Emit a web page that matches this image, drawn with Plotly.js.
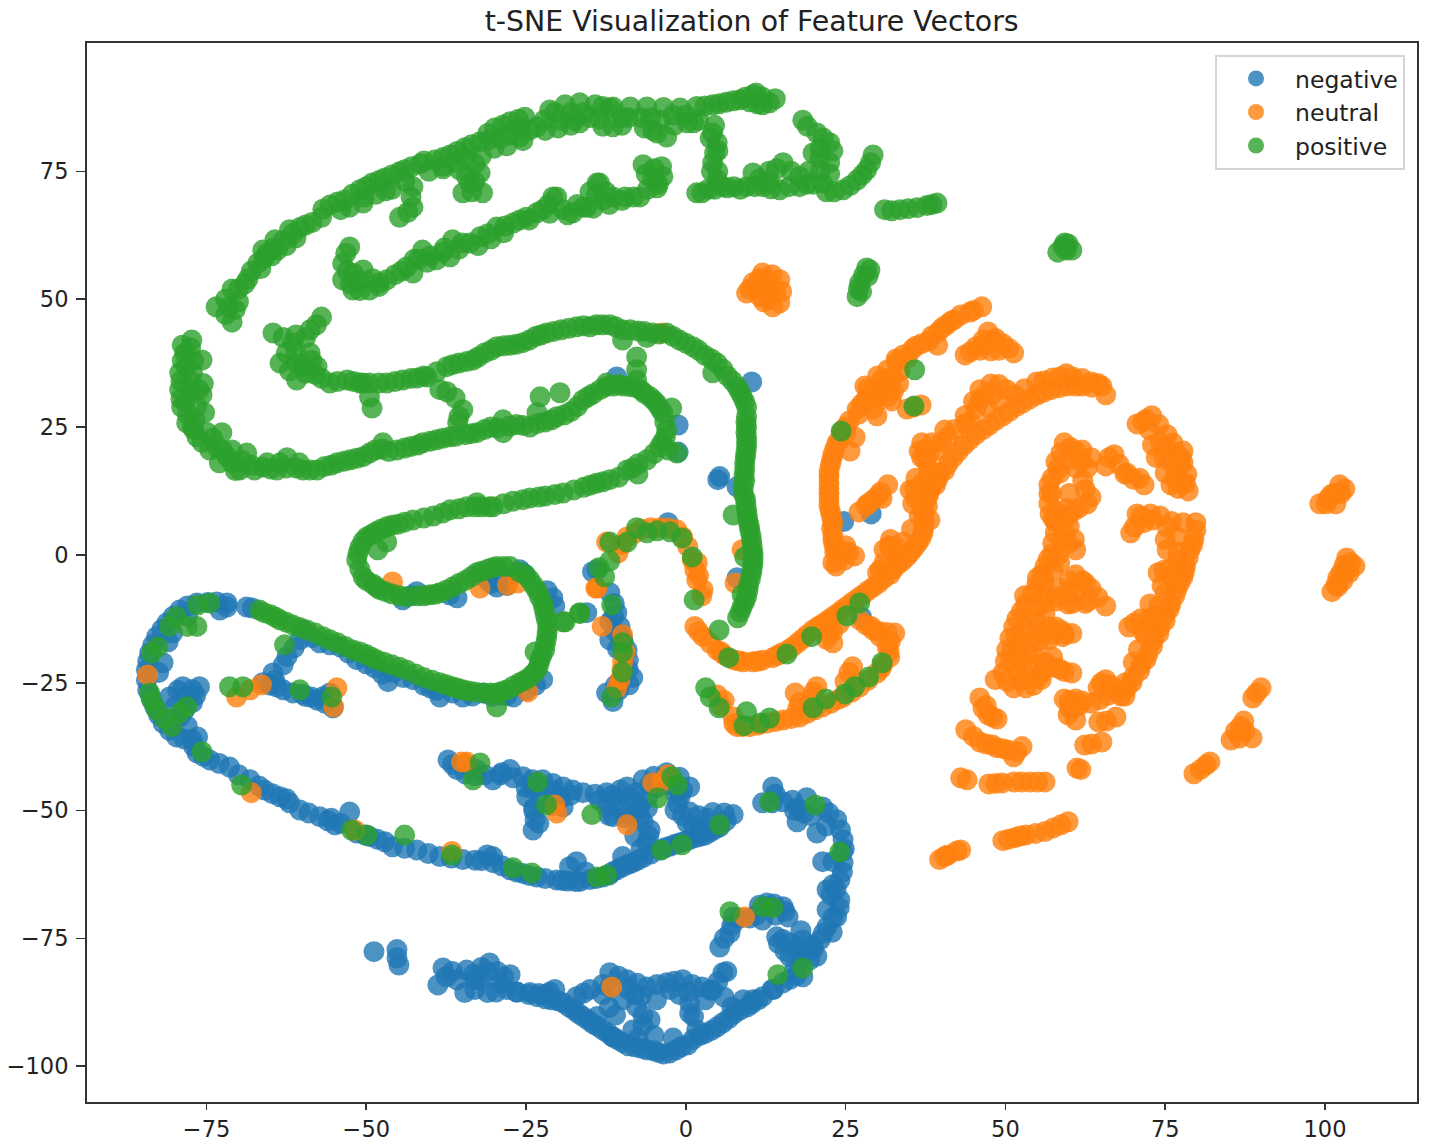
<!DOCTYPE html>
<html><head><meta charset="utf-8">
<script src="https://cdn.plot.ly/plotly-3.0.1.min.js"></script>
<style>html,body{margin:0;padding:0;background:#fff}</style>
</head><body><div id="chart" style="width:1429px;height:1145px"></div>
<script>
const seriesNames = ["negative","neutral","positive"];
const seriesColors = ["#1f77b4","#ff7f0e","#2ca02c"];
const xTicks = [-75,-50,-25,0,25,50,75,100];
const yTicks = [-100,-75,-50,-25,0,25,50,75];

// ---------- negative ----------
const negLoop = [[-71.8,-9.4],[-73.4,-9.2],[-76.5,-9.4],[-79.2,-10.8],[-81.2,-13.3],[-82.8,-16],[-83.9,-19.2],[-84.4,-22.5],[-84.2,-26.4],[-83.1,-29.7],[-81.8,-32.9],[-79.7,-35.6],[-77.2,-36.2],[-76.5,-38.7],[-74.5,-40.1],[-71.4,-41.5],[-80.3,-15.3],[-81.8,-21.1],[-76.4,-35.6],[-71.8,-10.2],[-72.9,-10.8],[-77.2,-26.4],[-78.7,-25.8],[-80.8,-27.8],[-76.1,-25.8],[-77.2,-28.9],[-79.2,-31.7],[-82.5,-23],[-78,-33.5],[-74.8,-9.3],[-78,-10],[-80.2,-12],[-82,-14.6],[-83.4,-17.6],[-84.2,-20.8],[-84.4,-24.5],[-83.7,-28],[-82.5,-31.3],[-80.8,-34.3],[-78.5,-36],[-75.5,-39.4],[-73,-40.8],[-77,-37.5],[-81,-17],[-78,-12],[-78,-27.5],[-76.7,-27.5],[-79.5,-26.5],[-79.8,-29.5],[-78.5,-30.5]];
const negBranch = [[-60.4,-16.6],[-62.4,-19.9],[-64.6,-23.1],[-64,-25.8],[-66.2,-25],[-61.5,-27],[-57.7,-28.4],[-55.2,-29.9],[-55.7,-27],[-59.5,-27.7],[-63,-21.5],[-61.3,-18.2],[-64.3,-24.5],[-65,-25.5],[-63,-26.4],[-60,-27.2],[-58.6,-27.8],[-56.5,-29],[-56.7,-27.7]];
const negStrip = [[-68.7,-10.2],[-67.8,-10.4],[-59.9,-14.7],[-57.3,-17.2],[-54.1,-18],[-51.5,-20.5],[-48.7,-22.1],[-46.6,-24.8],[-45.8,-23],[-42.7,-24.4],[-38.5,-27.8],[-34.9,-27.8],[-31.8,-27],[-27,-27.8],[-22.4,-24.4],[-40,-26],[-36.5,-27],[-29,-27.5],[-58.5,-16.2],[-55.7,-17.6],[-52.8,-19.2],[-50,-21.3],[-47.5,-23.3],[-44.2,-24],[-41,-25.5],[-39,-26.5],[-33.4,-27.6],[-30.3,-27.7],[-28,-27.5],[-25,-26.5],[-23.5,-25.5]];
const negUnderS = [[-42.1,-7.2],[-35.8,-8.4],[-29.6,-6.3],[-31,-5],[-28,-6],[-26,-2.9],[-20.8,-8.4],[-15.5,-11.3],[-13.9,-2.9],[-44.3,-8.8],[-30.5,-5.6],[-29,-5],[-27.5,-4.5],[-25.3,-3.7],[-21.7,-7],[-20.5,-10],[-43,-8],[-37,-7.8]];
const negArch = [[-11.9,-13.1],[-10.3,-14],[-11.9,-16.6],[-9.2,-18.6],[-11.9,-7.4],[-8.3,-24],[-12.4,-27],[-11.4,-28.7],[-2.8,6.3],[-14.6,-3.3],[-10.8,-11.3],[-11.2,-9.5],[-10,-16],[5,14.7],[8,13.3],[8,-4.5],[-10.8,34.8],[10.3,33.8],[-1.2,25.4],[-1.2,20.1],[5.3,15.3],[24.7,6.5],[29,8],[27.5,-12.2],[-11.3,-12],[-11,-15],[-9.8,-16.9],[-10.7,-18.4],[-9,-20.6],[-9,-22.5],[-8.9,-25.4],[-10.5,-26.5],[-11,-25.5]];
const negStripLow = [[-68.2,-44],[-65.9,-46],[-63.5,-47.3],[-60.4,-49.9],[-57.3,-51.2],[-54.9,-52.8],[-52.6,-50.3],[-50.2,-54.8],[-47.1,-56.1],[-49.5,-55.1],[-45.9,-57.1],[-42.1,-57.7],[-38.5,-59],[-34.9,-59.6],[-30.2,-59],[-30.2,-60.2],[-27.5,-61.6],[-23.3,-63],[-20.2,-63.6],[-16.6,-63.9],[-17.1,-60],[-13,-63],[-9.9,-61],[-6.7,-59.2],[-4.1,-57.7],[-0.9,-56.3],[2.2,-55.1],[5.3,-53.2],[7.4,-50.8],[4.2,-50.4],[2.2,-53.4],[0.2,-52.4],[0.6,-50.3],[-1.7,-49.9],[-0.9,-47.3],[-6.7,-52.2],[-5.6,-53.8],[-6.1,-56.3],[-9.9,-59],[-70,-43],[-62,-48.5],[-55.5,-51.5],[-32,-59.8],[-25.5,-62.3],[-18.5,-63.8],[-15,-63.5],[-11.5,-62],[-8.3,-60.2],[-2.5,-57],[0.6,-55.7],[3.8,-54.2],[-66.8,-45.2],[-64.7,-46.7],[-62.5,-47.7],[-59,-50.5],[-56,-52],[-54,-52.5],[-51.5,-54.4],[-48.3,-55.6],[-44,-57.4],[-40.3,-58.4],[-36.7,-59.3],[-33,-59.7],[-31.1,-58.7],[-28.8,-60.8],[-26.5,-62],[-24.5,-62.7],[-22,-63.3],[-19.3,-63.7],[-17.3,-63.9],[-18.2,-61],[-15.7,-62],[-14,-63.3],[-12,-62.6],[-10.8,-61.6],[-9,-60.5],[-7.5,-59.7],[-5.5,-58.5],[-3.3,-57.3],[-1.7,-56.6],[-0.1,-56],[1.5,-55.3],[3,-54.8],[4.5,-53.7],[6.3,-52],[3.3,-51.5],[1.2,-53],[-0.5,-51],[-1.3,-48.6],[-5.8,-55],[-7,-57.5],[-8,-55],[2,-51],[6,-50.5]];
const negWing = [[-37.2,-40.1],[-35.8,-42],[-32.7,-42],[-30.2,-44],[-27.5,-42],[-25.5,-43.4],[-22.4,-44],[-19.2,-45.4],[-16.1,-46.5],[-12.4,-46.5],[-9.2,-45.4],[-6.7,-44],[-3,-42.6],[0.6,-45.4],[-24.9,-47.3],[-22.8,-47.9],[-23.9,-53.8],[-23.6,-51.8],[-19.2,-49.3],[-12.4,-49.3],[-9.9,-49.9],[-7.2,-49.3],[-10.8,-47.9],[-7.7,-46.5],[-11.4,-51.2],[-7.2,-51.2],[-1.7,-46.5],[-34.5,-41],[-29,-43],[-20.8,-44.7],[-17.7,-46],[-14.2,-46.8],[-5,-43.3],[-1,-43.5],[-23.8,-49.5],[-4.5,-45.5],[-36.5,-41],[-34.5,-42.8],[-33,-43.2],[-31.5,-43],[-28.8,-42.6],[-27,-43.6],[-24,-44],[-23.5,-45.5],[-21,-46],[-20.5,-47.5],[-18,-47],[-13.5,-48],[-11.5,-47],[-10.3,-46],[-8,-47.8],[-8.5,-51],[-5.7,-45],[-6,-47.5],[-6,-49.5],[-4,-44.5],[-2.2,-45],[-0.5,-46],[-24,-45.5],[-25,-45.5],[-23.8,-50],[-23,-52.5],[-19.5,-47.5],[-21,-49],[-12,-51],[-9,-47.5],[-9.5,-51.5]];
const negHook = [[13.6,-45.4],[12,-48.5],[15.2,-48.3],[18.9,-47.5],[17.4,-52.2],[21.4,-49.3],[20.5,-54.4],[23.6,-51.8],[24.6,-55.7],[21.4,-60],[24.6,-60.2],[24.1,-63.6],[22.1,-65.5],[24.1,-67.5],[22.1,-69.4],[23.6,-70.8],[22.1,-72.7],[21,-75.3],[14.2,-74.7],[16.3,-75.9],[18.3,-75.3],[16.3,-78.6],[19.4,-79.2],[18.3,-82.5],[15.2,-83.7],[12,-86.4],[8.5,-89],[4.9,-92.3],[1.1,-94.8],[-2.5,-97.4],[-6.1,-96.8],[-9.9,-95.4],[-13,-92.9],[-16.1,-90.3],[-19.2,-87.6],[-23.3,-86.4],[-26.4,-85.5],[17,-50],[24.5,-58],[23.5,-65.5],[20,-77],[17,-81],[13.7,-85],[10.3,-87.8],[6.7,-90.7],[3,-93.6],[-0.7,-96.2],[-4.3,-97.3],[-8,-96.2],[-11.5,-94.2],[-14.5,-91.7],[-17.5,-89],[-21,-87],[14,-46.8],[13.5,-48.5],[16.7,-48],[17.5,-49.5],[18.5,-50.5],[19.5,-51],[22.4,-50.5],[22,-53],[24.2,-53.8],[24.8,-57.5],[23,-60],[24.5,-62],[23,-64.5],[22.7,-66.5],[24,-69],[23,-71],[22.9,-73.8],[21.5,-74],[19.7,-76.5],[15.2,-75.2],[17.3,-77],[18,-79],[14.5,-76],[17.3,-82.3],[16.3,-83],[13.5,-85],[11.3,-87],[9.6,-88.4],[7.5,-89.8],[5.8,-91.5],[4,-93],[2.2,-94],[0.3,-95.8],[-1.5,-96.8],[-3.5,-97.6],[-5,-97],[-7,-96.5],[-9,-96],[-10.7,-94.8],[-12.2,-93.5],[-13.8,-92.2],[-15.3,-91],[-16.8,-89.7],[-18.3,-88.4],[-20,-87.2],[-22,-86.8],[-24.6,-86],[15.5,-77.5],[18.7,-77.5],[20.5,-78.5],[18,-73.5]];
const negInner = [[7.2,-88.4],[10.5,-87],[4.2,-85.1],[5.8,-81.7],[0.6,-89.6],[1.7,-92.9],[0.6,-87.6],[-0.5,-83.1],[-3,-83.7],[-6.1,-84.5],[-9.2,-83.1],[-11.9,-81.7],[-11.9,-84.5],[-15,-85],[-17.1,-86.4],[-7.7,-88.4],[-5.6,-90.9],[-8.3,-92.9],[-13.9,-90.3],[-11.4,-94.3],[3.8,-85.1],[6.4,-81.5],[-8,-86],[-12,-88.5],[-4.6,-87],[9,-87],[6,-86.5],[5,-83.5],[3,-87],[0.4,-85.5],[1.2,-90.3],[-1.8,-83.4],[-4.5,-84],[-7.6,-83.8],[-10.5,-82.4],[-13,-84],[-13,-86],[-16,-85.7],[-9,-85],[-7,-86.3],[-9.9,-87],[-6.7,-90],[-6.7,-92],[-11,-90],[1,-84],[2.5,-84.5],[-1,-86],[-2.5,-85],[-2,-94.5],[-5,-94],[-7.5,-94.5]];
const negArm = [[5.3,-76.7],[6.9,-73.9],[7.4,-70.8],[10,-71],[12.7,-68.1],[15.2,-68.8],[16,-70.8],[12,-71.4],[6,-75],[7.2,-72.5],[8.5,-71],[11,-70.5],[11.5,-68.5],[13.8,-68.3],[14,-70.5],[15.5,-69.7]];
const negLeftBlob = [[-48.8,-77.6],[-45.2,-77.2],[-44.9,-80.2],[-45.2,-78.8],[-38.8,-84.1],[-38,-80.8],[-34.6,-85.6],[-34.3,-81.2],[-30.7,-79.8],[-31,-85.6],[-27.5,-82.1],[-32.2,-83.1],[-29.1,-83.7],[-24.4,-85.6],[-20.5,-85],[-35.8,-83.1],[-36.5,-81.5],[-33,-85],[-28,-85],[-22,-86],[-37.5,-82.5],[-33.2,-82],[-32,-80.7],[-29.5,-81.5],[-31.2,-81.5],[-29.7,-85.5],[-26.5,-85.5],[-33,-83],[-28.5,-82.5],[-23,-85.8],[-21.3,-85.5]];

// ---------- neutral ----------
const neuSpotsUpper = [[-84.2,-23.5],[-66.4,-25.4],[-70.3,-27.8],[-68.2,-26.4],[-54.6,-26],[-55.1,-29.7],[-45.9,-5.3],[-32.2,-6.5],[-27.9,-5.9],[-26.3,-5.5],[-24.7,-26.8],[-13.9,-6.5],[-13.1,-14],[-12.4,2.5],[-9.9,-15.6],[-14.1,-6.5],[7.7,-5.5]];
const neuSpotsLower = [[-35.1,-40.5],[-34.3,-40.5],[-20.2,-50.5],[-20.5,-48.9],[-9.2,-52.8],[-5.2,-44.6],[-3.8,-44.4],[-2.8,-43],[-36.6,-58],[-51.8,-53.8],[9.2,-70.8],[-11.6,-84.5],[-68,-46.5]];
const neuArch = [[-10.6,0.4],[-9.2,3.5],[-1.4,4.9],[0.3,1.6],[1.4,-2.9],[2.7,-6.8],[1.7,-4.9],[-9.9,-20.9],[-10.3,-24.4],[8.8,1],[-7,5],[-4,5.3],[-3.8,43.4],[-10,2],[-8,4.2],[-5.5,5.3],[-2.7,5.2],[-0.5,3.5],[1,-1],[1.8,-1.5],[2,-4],[2.5,-8],[-9.5,-19],[-10,-22.5],[-10.8,-26]];
const neuBlob = [[12.7,53.8],[9.5,51.2],[13.6,48.5],[14.7,53.8],[12,55.1],[11.6,50.5],[14.7,49.3],[10.5,53.2],[13,52],[11,52],[13,50],[12,53.5],[14,51.5],[11.5,54],[13.5,54.8],[10,52],[12.2,49.5],[15,51.5]];
const neuMidArc = [[1.4,-14],[2.7,-16],[4.9,-18.6],[7.4,-20.5],[10.5,-20.9],[13.6,-20.1],[16.7,-18],[19.9,-14.7],[23,-12.1],[26.1,-9.2],[23,-17.2],[22.5,-15.3],[29.3,-6.3],[32.4,-2.9],[35.1,0.4],[37.1,4.3],[37.1,8.8],[38.2,12.7],[39.7,16],[31.9,1.6],[30.4,-2.9],[35.1,12.7],[6,-19.6],[9,-20.9],[12,-20.6],[15,-19.2],[18.3,-16.4],[21.5,-13.4],[24.5,-10.7],[27.7,-7.8],[31,-4.6],[33.8,-1.3],[36.3,2.3],[37.3,6.5],[37.6,10.8],[39,14.5],[2,-15],[3.8,-17.3],[5.5,-19],[8.2,-20.7],[11.2,-20.8],[14.3,-19.7],[16,-18.6],[17.5,-17.2],[19,-15.6],[20.7,-14],[22.2,-12.8],[23.8,-11.4],[25.3,-10],[26.9,-8.5],[28.5,-7],[30.2,-5.5],[32,-3.8],[33.1,-2],[34.5,-0.5],[35.7,1.3],[36.8,3.3],[37.2,5.3],[37.2,7.6],[37.8,9.5],[38,11.7],[38.5,13.5],[23,-15],[24,-13.5],[22,-16.5]];
const neuUpperArc = [[38.2,6.8],[39.1,13.7],[41.8,19],[45.4,23.5],[49.6,27.2],[53.8,30.5],[58.5,32.7],[61,33],[65.1,33],[65.7,31.3],[63.4,33.8],[59.5,35.4],[40.5,16.5],[43.5,21.4],[47.5,25.4],[51.7,29],[56,31.8],[36.9,21.9],[40.5,24.4],[36.5,20.3],[43.7,27.2],[45.4,28.5],[46,32.3],[47.7,33.4],[50.2,32.3],[54.9,33.8],[57.4,34.6],[35.8,12.9],[36.5,7.6],[31.9,1.8],[30,-3.5],[36.9,19],[38.5,21.9],[46,30.1],[49,30.1],[43.7,25.6],[34,2.5],[38,17],[39.5,15],[41,17.7],[42.6,20.2],[44.4,22.5],[46.5,24.5],[48.5,26.3],[50.6,28],[52.7,29.7],[54.9,31.2],[57.2,32.3],[59.7,33],[62,33],[63.5,32.8],[64.5,33.5],[60.5,34.8],[62,34.5],[58.5,34.8],[37.5,20.5],[38,19.5],[39.5,20.5],[40,22],[41,23],[42,24.5],[44.5,26],[45,30],[46.5,31],[47,29],[48,31.5],[49,33.3],[51.5,31.3],[53,32.5],[56,34],[36.8,10.3],[36,15],[37,14],[33,1.5],[32,3],[35.5,10],[36,11],[35.3,5],[33,-1],[31,-1.5],[31,1],[37.5,18.5],[38,15.5]];
const neuLeftArc = [[46.3,48.5],[43,46.9],[40.1,44.4],[36.9,41.3],[34,39.1],[31.6,36.2],[29.6,32.3],[26.8,28.5],[24.4,24.1],[23,19.6],[22.4,15.3],[22.4,10.8],[23,6.3],[23.2,1.8],[23.5,-2.2],[25,1.8],[26.4,-0.2],[31.6,30.9],[29.3,28.5],[32.9,38.3],[39.4,41],[45,47.8],[41.5,45.7],[38.5,42.8],[35.4,40.2],[33,37.7],[30.6,34.2],[28.2,30.5],[25.6,26.2],[23.6,21.8],[22.6,17.5],[22.4,13],[22.6,8.5],[23,4],[25.7,20.3],[31,33],[24,-0.5],[44.5,47.5],[42,46],[40.8,45],[39.5,43.6],[38,41.8],[36,40.8],[34.7,38.5],[33.5,36],[32.5,35],[31.8,33],[30,30.8],[30.5,32],[32.5,32],[33.3,33.5],[28.5,32.5],[29,31],[27.5,29.5],[27,27.5],[25,25],[25,23.8],[24,22.5],[23.3,20.7],[22.8,18.5],[22.4,16.3],[22.4,14],[22.4,12],[22.4,9.6],[22.8,7.4],[22.8,5.2],[23,3],[23.3,0.5],[23,-1.5],[24.3,0.8],[24.8,-1],[25.5,0.5],[26.5,23],[30,35],[28,33],[32.2,30.1],[29.9,27.2]];
const neuUpperBits = [[47.3,43.6],[49.6,41.3],[51.3,39.5],[47.7,39.9],[43.7,39.1],[45.4,40.7],[48,42],[46.5,42],[48.5,42.3],[50.5,40.4],[49,40],[46,40],[44.5,39.7],[46.5,41],[34.6,28.5],[36.8,29.3],[35.6,28.9],[27.1,8.4],[29.3,10.8],[31.6,13.7],[30.7,11],[28.2,9.6],[28.5,10],[30,11.5],[30.5,12.3]];
const neuPiece = [[27.2,-12.7],[29.3,-14.7],[32.7,-15.3],[31.5,-18],[30.4,-16],[31.9,-20],[26.1,-21.9],[24.9,-24.8],[28.2,-13.7],[30.3,-15],[31.5,-15.2],[32,-17],[31.8,-19],[25.5,-23],[29,-14]];
const neuLowArc = [[7.4,-31.7],[8,-33.6],[10,-33.6],[12.7,-32.9],[15.2,-32.3],[17.8,-31.7],[21.4,-29.7],[24.6,-27.8],[27.2,-25.8],[29.9,-23.1],[17.1,-27],[17.8,-28.9],[20.5,-25.8],[19.9,-27.8],[4.9,-27.4],[5.5,-29.5],[30.8,-21.5],[8.8,-33.6],[11.3,-33.3],[14,-32.6],[16.5,-32],[19,-31],[20.2,-30.3],[22.7,-29],[23.8,-28.3],[26,-26.8],[28.5,-24.5],[17.5,-30],[20,-26.8],[6,-28.5],[7.5,-33],[30.5,-22.3]];
const neuSpine = [[59.2,21.9],[57.9,18.2],[56.8,13.7],[56.8,10],[57.9,6.3],[57.4,2.3],[56.2,-2.2],[54.9,-5.9],[53.2,-9.6],[51.3,-14.1],[50.2,-18.6],[49.6,-23.1],[48.4,-24.4],[51.3,-26],[53.2,-26],[55.6,-24.4],[53.8,-17],[56.8,-14.1],[52.6,-15.4],[53.2,-12.5],[61,20.3],[63.4,19],[62.1,14.5],[63.4,11.3],[61.5,9.2],[59.8,7.6],[59.2,4.7],[61,1],[59.8,2.3],[58.5,16],[57.2,12],[58.3,0],[56,-4.5],[50.8,-21],[52.5,-21],[54.5,-19.5],[61,17],[58.7,20],[58.2,16.8],[57.3,15],[56.8,12],[57,8],[57.5,7],[57.8,4.3],[57.3,0.2],[56.7,-0.8],[55.7,-3.8],[55,-4.5],[54.2,-7.7],[53,-8],[52.5,-11],[51.8,-12.5],[51.7,-16],[50.7,-16.3],[50,-20.8],[51,-19],[52,-18],[52,-23],[53.5,-23.5],[50.3,-24.8],[54.4,-25.5],[52.5,-24.5],[55.3,-21.5],[55.2,-17],[54.8,-12.8],[56.2,-11.5],[55,-10],[56,-5.5],[57.5,-3],[58.5,-1.5],[58.8,3],[60,5.5],[60.8,3],[58,8.5],[59.5,9],[60,12],[60,18.8],[62,20.5],[61.8,18.2],[60.2,21],[60.6,8.5],[62.5,12.8],[62.8,10],[62.8,17],[56.2,-9.5],[54.7,-14.8],[53.5,-19.2],[52.2,-20]];
const neuInnerBlobs = [[61,-3.9],[58.5,-6.6],[56.2,-8],[63.4,-6.6],[65.7,-10],[61,-8],[59.8,-9.6],[62.5,-9.5],[57.9,-14.1],[60.4,-15.4],[56.8,-16.6],[59,-16],[57.4,-20],[60.4,-23.1],[58.5,-22.3],[54.9,-23.9],[60,-5],[62,-5],[62.5,-5.5],[64.5,-8.3],[60,-7],[58,-8.2],[63,-9],[60.5,-9.5],[58,-9],[58.8,-14.8],[59.3,-15.5],[57.5,-15.5],[55.5,-15.5],[56.2,-21],[55.7,-23],[59.2,-22.8],[57.5,-22]];
const neuTopRight = [[67,19.6],[68.7,15.8],[71.7,13.7],[65.7,17.4],[70.6,25.6],[72.9,27.2],[75.3,23.5],[73.6,19],[77.8,20.3],[78.4,15.8],[75.9,13.7],[78.6,12.5],[77.2,17.4],[74.8,19],[76.2,21.9],[75,16],[66.2,19],[67.8,17.7],[70,14.8],[71,15],[69,16],[72,26.5],[71.5,26],[74,25.5],[74.2,22],[73,21.5],[72.5,24.5],[76.7,20],[77.5,19],[77.8,18],[76,18],[75,21],[76.5,15],[77.5,14],[77,13],[78.2,14]];
const neuRightArc = [[79.8,6.3],[78.9,1],[77.8,-4.3],[75.9,-9.6],[74.2,-14.1],[72.3,-19.4],[70,-23.9],[68.1,-27.6],[78.2,-2.2],[76.8,-6.8],[75,-11.7],[73.2,-16.6],[71.2,-21.5],[79.5,3.1],[74.2,7.6],[70.6,8],[69.6,4.3],[71.7,6.3],[75.3,5.5],[75.3,1],[77.8,6.3],[73.9,-3.5],[75.9,-2.7],[72.6,-9.6],[69.3,-14.1],[71.2,-12.5],[72.9,-14.1],[79.8,4.8],[79.3,2],[78.6,-0.5],[78,-3.3],[77.3,-5.5],[76.5,-8],[75.6,-10.7],[75,-12.9],[74,-15.4],[73,-17.9],[72,-20.5],[71,-22.7],[69.8,-25],[69,-26],[77,-1],[76,-4.5],[75,-7.5],[74,-10],[73.5,-12],[72.5,-12.5],[72,-16],[70.8,-18.5],[70,-21],[73,6.8],[72.7,8],[71.2,7.5],[70.2,5.5],[75,3],[76,6.5],[76.8,3.5],[77,0.5],[74.8,-3],[74.5,-6],[70.2,-13.3],[71.5,-15],[68.8,-25]];
const neuLowerBits = [[65.7,-24.4],[67.6,-26.8],[64.5,-26],[68.7,-27.6],[63.4,-29],[59.2,-28.2],[59.8,-31.3],[61,-32.3],[61,-28.2],[64.6,-32.7],[67.3,-31.7],[62.4,-37.2],[65.1,-36.6],[61.2,-41.7],[46,-28],[47.3,-31.3],[48.7,-32.1],[43.8,-34.2],[46,-36.6],[49.6,-37.9],[52.6,-37.5],[51.3,-39.5],[48,-37.2],[43,-43.6],[47.4,-44.8],[51.3,-44.4],[56.2,-44.4],[53.8,-44.4],[49.6,-55.9],[53.2,-54.8],[56.2,-54.1],[59.8,-52.2],[51.5,-55.3],[39.7,-59.6],[42.4,-57.9],[41,-58.7],[66.5,-25.5],[65,-25],[66,-27.5],[64.8,-28.3],[62,-28.6],[60,-28.5],[60,-30],[60.5,-30],[61.5,-29.5],[65.8,-32.5],[63.5,-37],[61.8,-42],[47,-29.5],[46.5,-30],[48,-31.7],[45,-35.5],[47,-37],[48.6,-37.7],[50.5,-38.2],[51.8,-38.5],[44,-44],[48.5,-44.7],[49.5,-44.6],[52.5,-44.4],[55,-44.4],[50.5,-55.6],[52.3,-55],[54.7,-54.5],[57.5,-53.4],[58.7,-52.8],[40.5,-59],[43,-57.7]];
const neuIsolated = [[90,-26],[88.7,-28],[87.3,-32.5],[85.3,-36.2],[88.6,-35.8],[86.7,-35.8],[81.4,-41.1],[79.5,-42.8],[102.3,13.7],[99.2,10],[101.7,10],[103.1,12.9],[100.5,11],[103.4,-0.6],[104.7,-2.2],[101.7,-5.9],[102.8,-5.1],[101.1,-7.2],[103.5,-3],[89.3,-27],[86,-34.5],[86.8,-33.5],[87.5,-34.5],[80.5,-42],[82,-40.5],[101.5,12],[100.2,10],[102.5,12],[101,11.8],[103,-2],[102.5,-3.5],[102,-6.2],[103.8,-3.5],[104,-1.5],[102,-4.5]];

// ---------- positive ----------
const posOuter = [[-73.5,48.5],[-72,47],[-71,45.5],[-70.5,48],[-72,50],[-70,52],[-68.5,54],[-67,57],[-65.5,59],[-66.2,59.6],[-64.3,61.6],[-62,63.6],[-63.9,59.6],[-60.4,64],[-58.5,65],[-55.7,68.4],[-53.4,69.4],[-51,71.4],[-52.6,68],[-49.1,72.7],[-47.1,73.7],[-44.8,74.9],[-42.9,75.9],[-42.7,72],[-42.7,68],[-44.8,66],[-50.5,68.8],[-39.3,77.2],[-36.9,78.2],[-34.6,79.6],[-32.2,80.8],[-35.4,75.3],[-33.8,72.7],[-34.9,70.8],[-31.8,70.8],[-32.2,74.7],[-29.9,83.5],[-27.5,84.7],[-25.2,85.6],[-27.5,82.1],[-24.4,83.1],[-30.7,81.2],[-26,81.7],[-23.3,83.7],[-21.3,87],[-18.9,88],[-16.6,88.4],[-14.2,88],[-11.9,87.4],[-19.7,85],[-17.4,85],[-15,85.5],[-16.6,84.5],[-11.4,83.7],[-5.2,83],[-3,81.7],[0.2,84.5],[-11.4,87.6],[-8.7,87.6],[-6.1,87.6],[-3.5,87.5],[-0.9,87.4],[1.7,87.7],[4.2,88],[6.3,88.5],[8.5,89],[11,90.3],[13.1,88.4],[10,88.6],[-9,85.5],[-4,85],[2,85],[-71.5,48.5],[-70,49.5],[-71,52],[-69,53],[-68,55.5],[-66.5,56],[-66,58],[-64.8,58.5],[-64.5,60],[-63,61.5],[-62.5,60.5],[-61,62],[-61.5,62.8],[-59.5,64.5],[-57,66],[-56.8,67.6],[-54.5,69],[-54,67.5],[-52.2,70.5],[-50.3,70],[-50,72],[-48,73.2],[-48.5,70.5],[-46,74.3],[-46,71.5],[-47,71.2],[-44,73],[-44,75.3],[-41.5,76.5],[-43,70],[-43.5,67],[-41,77],[-38,77.7],[-40.2,75],[-38,75.5],[-35.8,78.9],[-36,76.8],[-33.5,80.2],[-34.5,77.5],[-34.3,74],[-33,73],[-33.5,71],[-33,76.5],[-32,78],[-31,82.4],[-29,81.5],[-28.7,84],[-26.2,85.2],[-26,83.5],[-22.2,85],[-22,83],[-20.5,86.5],[-20,83.5],[-18,86.5],[-18,84],[-16,86.5],[-13,87.7],[-13.5,85.2],[-13,83.8],[-10,85.5],[-10,84],[-7,85.5],[-6.5,83.5],[-5.5,85.5],[-4.5,82.5],[-2,86],[-1.8,84],[0,86],[1.2,84.5],[3,87.8],[5.2,88.2],[7.4,88.8],[9.3,89.5],[12,89.5],[10.5,90],[12,88],[14,89.2],[11.2,88.2],[-38,76],[-30,79.5],[-28,80],[-25.5,81]];
const posInner = [[-52.6,60.2],[-53.7,57],[-53.7,53.8],[-52.1,51.8],[-49.5,51.8],[-50.5,55.7],[-46.8,53.8],[-43.7,56.3],[-41.2,59.6],[-39,57.7],[-36.5,61.6],[-33.8,61],[-29.6,64.1],[-26,65.5],[-22.4,67.5],[-20.2,70],[-19.2,67.5],[-16.1,68],[-13.5,72.7],[-13,69.4],[-42.7,55.1],[-36.9,58.3],[-32.2,62.2],[-27,64.9],[-23.3,66.9],[-20.8,70],[-17.7,66.9],[-15.5,68],[-13.9,72.7],[-11.4,70],[-7.2,70],[-5.2,73.3],[-6.7,76.3],[-3.6,74],[-3.8,75.9],[-9.5,70],[-15,71],[-40,58.5],[-48,53.2],[-53.2,59],[-53,55.5],[-52.5,53],[-51,51.7],[-52,55],[-51,53.5],[-48,52.5],[-49,54],[-45.5,54.8],[-44.5,55.5],[-42.5,57.8],[-41.8,57.8],[-40.5,57.2],[-38,59.2],[-37.8,60],[-35.5,59.8],[-35,61],[-32.5,60.5],[-31,62.8],[-30.5,61.8],[-28.3,64.3],[-28.5,63],[-25,66],[-24.5,65.5],[-21.5,68.5],[-21.3,66.8],[-18.5,66.5],[-17,68.5],[-14.5,67.8],[-14,70.5],[-12.5,71],[-12,68.5],[-10,69.3],[-8.2,70],[-6,71.5],[-4.5,71.8],[-6.2,74.5],[-5,75.5],[-4.3,72.5]];
const posCross = [[4.2,82.5],[4.9,80.6],[4.2,76.7],[4.9,73.3],[1.7,70.8],[5.8,72],[4.5,78.6],[3.5,71.5],[7.5,72],[9.5,72],[12,72],[14.7,71.4],[17.8,72],[10.5,74.7],[15.2,76.7],[17.8,74],[13,73],[18.3,85],[20.5,82.5],[22.5,80.6],[22.5,76.7],[21.4,72.7],[19.9,78.6],[22,71],[24.6,71.4],[26.8,73.3],[28.3,75.3],[29.3,78.2],[31.1,67.5],[33.5,67.5],[36.2,67.9],[39.3,68.8],[28.3,56.1],[27.2,53.2],[26.8,50.5],[28.8,55.7],[59.3,61],[58.2,59.2],[60.4,59.6],[4.5,84],[3.8,81.5],[5,79],[4,75],[5,75],[2.5,70.8],[4.5,71.5],[6.5,71.8],[8.5,71.5],[10.8,72],[13.3,71.6],[11.5,73.5],[13,75],[14.2,75.5],[16.2,72],[16.5,75],[19,72.5],[20,72.5],[19.2,75],[21,75],[19,83.8],[21.5,81.5],[21,79.5],[21,77.5],[23,79],[22.5,74.5],[23.2,71],[25.7,72.2],[27.6,74.3],[28.9,76.7],[32.2,67.3],[34.8,67.7],[37.7,68.3],[38.5,68.5],[27.8,54.7],[27,52],[27.5,51.5],[28.5,54.5],[59,60.3],[59.5,59.6],[59.8,60.8]];
const posLeftC = [[-77.3,42],[-78.4,39.5],[-75.7,38.1],[-79.2,35.6],[-77.2,35.6],[-79.2,32.3],[-75.7,31.3],[-78.9,28.9],[-75.3,27.8],[-78.1,25.8],[-76.5,23.1],[-72.6,23.9],[-74.5,20.5],[-71.8,19.2],[-69.8,16.6],[-68.7,19.9],[-66.2,17.2],[-62.4,19],[-64,16.6],[-59.9,16.6],[-57.7,16.6],[-73,18],[-75.5,33.5],[-79,30.5],[-77,24.5],[-78.8,41],[-77.5,40.5],[-78.8,38],[-77,38],[-78.2,37],[-79,34],[-77.5,34],[-76.2,32.3],[-77.5,32],[-78.3,30],[-76.5,29],[-78,27.5],[-76.8,26.5],[-77.2,25],[-75.7,22],[-75,24],[-74,22.8],[-73.3,21],[-72.5,20.5],[-71,20.5],[-71,18],[-70.5,16.5],[-69.5,18.5],[-68,17.5],[-67.5,16.6],[-65.5,18],[-65,16.8],[-63.5,18],[-62.5,17],[-61,17],[-60.5,18],[-58.8,16.6],[-56.5,17.3],[-55.5,17.5]];
const posBandS = [[-54.6,18],[-50.5,19.2],[-47.4,21.9],[-45.2,20.5],[-41.2,21.9],[-36.9,23.1],[-34.9,28.4],[-35.7,25.8],[-32.7,23.9],[-28.6,26.4],[-28.6,23.9],[-24.4,25],[-22.8,30.9],[-23.3,27.8],[-19.7,31.7],[-20.2,27],[-16.1,30.3],[-12.4,33.6],[-37.4,31.9],[-38.5,32.3],[-36.1,30.7],[-52.5,18.6],[-48.6,20.5],[-43,21.2],[-39,22.5],[-34.5,23.5],[-30.5,25],[-26.5,25.5],[-22,26],[-18,28],[-14.5,31.5],[-12.4,32.9],[-8.8,32.9],[-5.6,30.9],[-3.6,27.8],[-3,24.4],[-4.1,21.1],[-1.4,19.9],[-6.1,18.6],[-9.2,16.6],[-2.2,28.7],[-7.7,38.7],[-7.7,36.2],[-7.7,34.2],[-10.5,33.3],[-7,32.2],[-4.5,29.5],[-53.5,18.3],[-51.5,18.9],[-49.5,19.9],[-47.5,20.7],[-46.5,20.2],[-44,20.9],[-41.9,21.5],[-40,22.2],[-38,22.8],[-36,23.2],[-35.5,27],[-33.6,23.7],[-31.5,24.5],[-29.5,24.8],[-27.5,25.2],[-25.5,25.3],[-23.2,25.7],[-21,26.4],[-19,27.4],[-17,29],[-15.3,30.9],[-13.4,32.3],[-11.3,33],[-9.8,33],[-7.8,32.7],[-6.5,31.6],[-5,30.2],[-4,28.5],[-3.3,26],[-3.2,23],[-3.7,22],[-5,19.8],[-7.5,17.8],[-8.3,17],[-2.8,20.5]];
const posLowBand = [[-11.9,14.7],[-19.2,12.1],[-24.4,11.1],[-30.2,9.4],[-34.3,9.4],[-36.9,8.8],[-42.7,6.8],[-46.8,5.5],[-49.9,3.5],[-51.5,-1],[-50.5,-4.3],[-47.9,-6.8],[-43.7,-8.2],[-40.1,-7.8],[-36.5,-6.3],[-32.7,-3.5],[-29.6,-2.3],[-27.5,-2.3],[-24.4,-4.9],[-22.4,-9.4],[-21.6,-14],[-22.1,-18.6],[-23.3,-22.5],[-26,-25],[-29.6,-27],[-34.9,-26.4],[-38.5,-25],[-43.7,-22.5],[-48.4,-20.5],[-52.1,-18.6],[-56.8,-16],[-59.3,-14.7],[-63.5,-12.7],[-66.7,-10.8],[-16,13.2],[-22,11.5],[-27,10.5],[-32,9.4],[-39.5,7.6],[-45,6],[-48.5,4.5],[-51,1.5],[-49,-5.7],[-46,-7.6],[-42,-8],[-38.5,-7.4],[-34.5,-5],[-31,-2.8],[-26,-3.4],[-23.3,-7],[-22,-11.7],[-21.8,-16.3],[-22.8,-20.5],[-24.5,-24],[-28,-26.4],[-31.5,-27],[-33,-26.8],[-36.5,-25.8],[-41,-24],[-46,-21.5],[-50,-19.5],[-54.5,-17.2],[-61.5,-13.7],[-65,-11.7],[-19.2,-13.1],[-16.6,-11.3],[-29.6,-29.7],[-23.6,-19],[-46.8,2.5],[-48.2,1],[-7.5,15.8],[-14,14],[-32.7,10.2],[-10.5,15.2],[-13,14.3],[-15,13.6],[-17.5,12.7],[-20.5,11.8],[-23,11.3],[-25.5,10.8],[-28.5,10],[-30.8,9.4],[-33,9.4],[-35.5,9],[-38,8.2],[-41,7.2],[-44,6.4],[-46,5.8],[-47.7,5],[-49.2,4],[-50.5,2.7],[-51.3,0.3],[-51,-2.8],[-50,-5],[-48.4,-6.3],[-47,-7.2],[-44.8,-8],[-41,-8],[-39.2,-7.7],[-37.5,-6.9],[-35.5,-5.6],[-33.6,-4.3],[-32,-3.2],[-30.3,-2.5],[-28.5,-2.3],[-25,-4],[-23.8,-6],[-22.9,-8.2],[-22.2,-10.5],[-21.8,-12.8],[-21.7,-15.2],[-22,-17.5],[-22.5,-19.6],[-23,-21.5],[-23.9,-23.3],[-25.2,-24.5],[-27,-25.7],[-28.8,-26.7],[-30.5,-27],[-34,-26.6],[-35.7,-26.1],[-37.5,-25.4],[-39.7,-24.5],[-42.3,-23.3],[-44.8,-22],[-47.2,-21],[-49.2,-20],[-51,-19],[-53.3,-17.9],[-55.7,-16.6],[-58,-15.3],[-60.4,-14.2],[-62.5,-13.2],[-64.2,-12.2],[-66,-11.3]];
const posRightBand = [[-3,43.4],[1.1,40.7],[4.9,37.5],[4.2,35.6],[8,32.9],[9.5,28.9],[9.5,25],[9.5,21.1],[9.2,16.6],[9,13.3],[9.5,8.8],[10,4.9],[10.5,0.4],[10.3,-3.5],[9.5,-8.2],[8.1,-12.3],[7.4,7.8],[10.3,2.7],[10.5,-1.5],[9.8,-6],[8.8,-10.2],[9.3,11],[9.7,6.8],[9.3,19],[9.5,23],[9.5,27],[8.8,31],[6.5,35],[3,39],[-1,42],[-2,42.7],[0,41.4],[2,40],[4,38.3],[5.8,36.3],[7.3,34],[8.4,32],[9.2,30],[9.4,26],[9.4,24],[9.5,22],[9.4,20],[9.2,17.8],[9.1,15.5],[9,12],[9.4,10],[9.6,7.8],[9.9,5.8],[10.2,3.8],[10.4,1.5],[10.5,-0.5],[10.4,-2.5],[10.1,-4.7],[9.7,-7],[9.2,-9.2],[8.5,-11.2],[9.2,14.5]];
const posUpperS = [[-57,46.5],[-58.8,44],[-64.6,43.4],[-61.5,41.5],[-63.5,37.5],[-59.9,36.8],[-57.7,36.8],[-60.9,34.2],[-55.7,33.6],[-58.8,39.5],[-53,34.2],[-49.5,33.6],[-49.1,28.7],[-49.5,30.9],[-46.8,33.6],[-44.3,34.2],[-40.5,34.8],[-37.4,36.8],[-33.3,38.1],[-29.6,40.7],[-25.5,41.5],[-21.8,43.4],[-17.1,44.6],[-11.9,45],[-15,44.6],[-9.9,44],[-5.2,43.4],[-9.9,42],[-6.1,42.5],[-51,33.6],[-43,34.5],[-35.5,37.5],[-31.5,39.5],[-27.5,41],[-23.5,42.7],[-19.5,44],[-14,45],[-7.5,43.8],[-61,43],[-60,37],[-57.8,45],[-59.5,42.5],[-63,42.5],[-62.5,39.5],[-61,39.5],[-62,36],[-61,37.5],[-59.5,35.5],[-58,35.3],[-57,34.5],[-58.5,38],[-54.5,33.9],[-52,33.9],[-50.5,33.6],[-48,33.6],[-45.5,33.9],[-42,34.6],[-41,35],[-39,35.8],[-36.5,37.2],[-34.3,37.8],[-32.5,38.7],[-30.5,40],[-28.5,40.9],[-26.5,41.2],[-24.5,42],[-22.7,43],[-20.7,43.7],[-18.3,44.3],[-16,44.8],[-13,45],[-11,44.6],[-8.7,44],[-6.5,43.7],[-4.2,43.2]];
const posSpotsBlue = [[-74.5,-9.4],[-76.4,-9.8],[-79.7,-12.1],[-80.8,-14],[-82.6,-18],[-83.6,-19.2],[-76.5,-14],[-78,-14],[-83.9,-27],[-82.8,-30.3],[-80.4,-33.6],[-78.1,-29.7],[-75.7,-38.5],[-79.2,-30.9],[-83.5,-28.6],[-81.6,-32],[-62.8,-17.6],[-60.4,-26.4],[-71.4,-25.8],[-69.3,-25.8],[-55.4,-27.8],[-32.2,-40.7],[-33.3,-44],[-23.2,-44.4],[-21.8,-48.9],[-14.7,-50.8],[-4.4,-47.5],[-2.2,-43.4],[-1.3,-45],[5.3,-52.8],[-0.6,-56.7],[-3.8,-57.7],[-12.4,-62.6],[-13.9,-63],[-24.1,-62.2],[-27,-61.2],[-36.6,-58.7],[-44,-54.8],[-49.9,-54.8],[-52.3,-53.8],[-69.5,-45],[13.1,-48.3],[20.2,-48.9],[24.1,-58.1],[6.9,-69.8],[12,-68.8],[13.6,-69],[14.4,-82.1],[18.3,-80.8]];
const posSpotsOrange = [[35.8,36.2],[35.7,29.1],[24.3,24.2],[27.2,-9.4],[25.2,-11.9],[19.7,-16],[15.8,-19.4],[6.7,-20.1],[5.2,-14.7],[30.7,-21.1],[28.6,-23.9],[26.4,-25.8],[24.9,-27.2],[21.9,-28.2],[19.9,-29.9],[13.1,-31.9],[11.6,-32.9],[9.5,-30.7],[9.1,-33.4],[5.2,-29.9],[3.8,-27.8],[3.1,-26]];
const posSpotsArch = [[1.3,-8.8],[1,-0.4],[-0.6,3.3],[-4.5,4.7],[-7.7,5.3],[-9.2,2.5],[-11.9,2.5],[-11.9,-1.2],[-13.6,-2.5],[-12.7,-4.3],[-11.6,-9.8],[-9.9,-17.2],[-9.9,-22.9],[-11.6,-27.8],[-16.6,-11.5],[-18.9,-13.1],[-6.1,4.3],[8.8,-7.8],[9.2,-0.4],[-2.5,4.5],[-9.9,-19]];

const negativeData = [].concat(negLoop,negBranch,negStrip,negUnderS,negArch,negStripLow,negWing,negHook,negInner,negArm,negLeftBlob);
const neutralData = [].concat(neuSpotsUpper,neuSpotsLower,neuArch,neuBlob,neuMidArc,neuUpperArc,neuLeftArc,neuUpperBits,neuPiece,neuLowArc,neuSpine,neuInnerBlobs,neuTopRight,neuRightArc,neuLowerBits,neuIsolated);
const positiveData = [].concat(posOuter,posInner,posCross,posLeftC,posBandS,posLowBand,posRightBand,posUpperS,posSpotsBlue,posSpotsOrange,posSpotsArch);

const allData = [negativeData,neutralData,positiveData];
const traces = allData.map((d,i)=>({
  type:'scatter',mode:'markers',name:seriesNames[i],
  x:d.map(p=>p[0]),y:d.map(p=>p[1]),
  marker:{color:seriesColors[i],size:21,opacity:0.8,line:{width:0}}
}));
const axisBase = {showgrid:false,zeroline:false,showline:true,mirror:true,linecolor:'#333',linewidth:2,
  ticks:'outside',tickwidth:1.6,tickcolor:'#333',tickfont:{family:'DejaVu Sans',size:22.5,color:'#222'}};
const layout = {
  width:1429,height:1145,margin:{l:87,r:12,t:43,b:43},paper_bgcolor:'#fff',plot_bgcolor:'#fff',
  title:{text:'t-SNE Visualization of Feature Vectors',font:{family:'DejaVu Sans',size:28.4,color:'#222'},x:0.526,xanchor:'center',y:0.982,yanchor:'middle'},
  xaxis:Object.assign({},axisBase,{range:[-93.7,114.4],tickmode:'array',tickvals:xTicks,ticklen:6}),
  yaxis:Object.assign({},axisBase,{range:[-107,100.1],tickmode:'array',tickvals:yTicks,ticklen:9,ticklabelstandoff:3}),
  legend:{x:0.991,y:0.989,xanchor:'right',yanchor:'top',bgcolor:'rgba(255,255,255,0.8)',bordercolor:'#d5d5d5',borderwidth:2,
    font:{family:'DejaVu Sans',size:23.5,color:'#222'},itemwidth:68,tracegroupgap:0}
};
Plotly.newPlot('chart',traces,layout,{displayModeBar:false,staticPlot:true});
</script></body></html>
